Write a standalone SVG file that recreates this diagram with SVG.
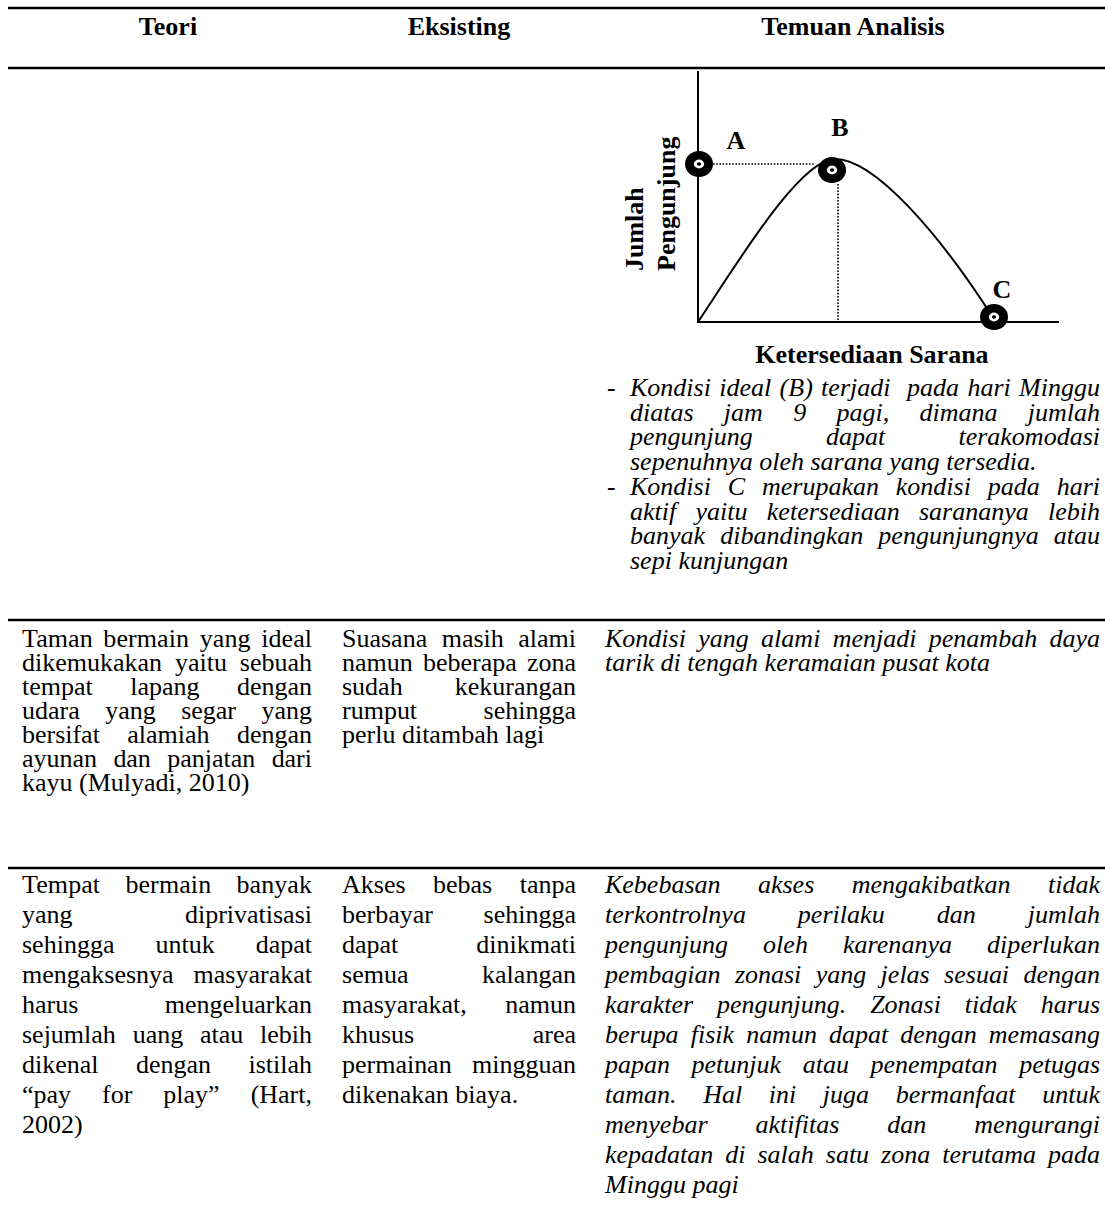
<svg xmlns="http://www.w3.org/2000/svg" width="1105" height="1205" viewBox="0 0 1105 1205">
<style>
text { font-family: "Liberation Serif", "Times New Roman", serif; font-size: 26px; fill: #000; }
.b { font-weight: bold; }
.i { font-style: italic; }
.c { text-anchor: middle; }
.rule { stroke: #000; stroke-width: 2.5; }
.ax { stroke: #000; stroke-width: 2; fill: none; }
.dot { stroke: #000; stroke-width: 1.6; stroke-dasharray: 1.6 1.6; fill: none; }
</style>
<defs>
<g id="marker-pt">
<ellipse cx="0" cy="0" rx="14" ry="13" fill="#000"/>
<ellipse cx="0" cy="0" rx="5.2" ry="4.4" fill="#fff"/>
<ellipse cx="0" cy="0" rx="2.2" ry="1.8" fill="#000"/>
</g>
</defs>
<rect width="1105" height="1205" fill="#fff"/>

<g id="rules">
<line class="rule" x1="8" y1="8" x2="1105" y2="8"/>
<line class="rule" x1="8" y1="68" x2="1105" y2="68"/>
<line class="rule" x1="8" y1="620" x2="1105" y2="620"/>
<line class="rule" x1="8" y1="868" x2="1105" y2="868"/>
</g>

<g id="header">
<text class="b c" x="168" y="35">Teori</text>
<text class="b c" x="459" y="35">Eksisting</text>
<text class="b c" x="853" y="35">Temuan Analisis</text>
</g>

<g id="chart">
<g id="connectors">
<line class="ax" x1="698" y1="71" x2="698" y2="322"/>
<line class="ax" x1="697" y1="322" x2="1059" y2="322"/>
<path class="ax" d="M698,322 C738,262 800,159 835,159 C875,159 940,235 992,316"/>
<line class="dot" x1="713" y1="164" x2="815" y2="164"/>
<line class="dot" x1="838" y1="184" x2="838" y2="322"/>
</g>
<g id="point-A"><use href="#marker-pt" x="699" y="164"/><text class="b c" x="736" y="149">A</text></g>
<g id="point-B"><use href="#marker-pt" x="832" y="170"/><text class="b c" x="840" y="136">B</text></g>
<g id="point-C"><use href="#marker-pt" x="994" y="317"/><text class="b c" x="1002" y="298">C</text></g>
<text class="b" transform="translate(643,271) rotate(-90)">Jumlah</text>
<text class="b" transform="translate(675,271) rotate(-90)">Pengunjung</text>
<text class="b c" x="872" y="363">Ketersediaan Sarana</text>
</g>

<g id="chart-notes">
<text x="607" y="396">-</text>
<text class="i" x="630" y="396" textLength="470" lengthAdjust="spacing" style="word-spacing:1.8px">Kondisi ideal (B) terjadi&#160; pada hari Minggu</text>
<text class="i" x="630" y="420.7" textLength="470" lengthAdjust="spacing" style="word-spacing:23.8px">diatas jam 9 pagi, dimana jumlah</text>
<text class="i" x="630" y="445.4" textLength="470" lengthAdjust="spacing" style="word-spacing:66.7px">pengunjung dapat terakomodasi</text>
<text class="i" x="630" y="470.1">sepenuhnya oleh sarana yang tersedia.</text>
<text x="607" y="494.8">-</text>
<text class="i" x="630" y="494.8" textLength="470" lengthAdjust="spacing" style="word-spacing:10.4px">Kondisi C merupakan kondisi pada hari</text>
<text class="i" x="630" y="519.5" textLength="470" lengthAdjust="spacing" style="word-spacing:12.8px">aktif yaitu ketersediaan sarananya lebih</text>
<text class="i" x="630" y="544.2" textLength="470" lengthAdjust="spacing" style="word-spacing:8.6px">banyak dibandingkan pengunjungnya atau</text>
<text class="i" x="630" y="568.9">sepi kunjungan</text>
</g>

<g id="row2-teori">
<text x="22" y="647" textLength="290" lengthAdjust="spacing" style="word-spacing:4px">Taman bermain yang ideal</text>
<text x="22" y="671" textLength="290" lengthAdjust="spacing" style="word-spacing:6.3px">dikemukakan yaitu sebuah</text>
<text x="22" y="695" textLength="290" lengthAdjust="spacing" style="word-spacing:31px">tempat lapang dengan</text>
<text x="22" y="719" textLength="290" lengthAdjust="spacing" style="word-spacing:19px">udara yang segar yang</text>
<text x="22" y="743" textLength="290" lengthAdjust="spacing" style="word-spacing:21px">bersifat alamiah dengan</text>
<text x="22" y="767" textLength="290" lengthAdjust="spacing" style="word-spacing:10px">ayunan dan panjatan dari</text>
<text x="22" y="791">kayu (Mulyadi, 2010)</text>
</g>

<g id="row2-eksisting">
<text x="342" y="647" textLength="234" lengthAdjust="spacing" style="word-spacing:8px">Suasana masih alami</text>
<text x="342" y="671" textLength="234" lengthAdjust="spacing" style="word-spacing:3.6px">namun beberapa zona</text>
<text x="342" y="695" textLength="234" lengthAdjust="spacing" style="word-spacing:45.6px">sudah kekurangan</text>
<text x="342" y="719" textLength="234" lengthAdjust="spacing" style="word-spacing:60px">rumput sehingga</text>
<text x="342" y="743">perlu ditambah lagi</text>
</g>

<g id="row2-temuan">
<text class="i" x="605" y="647" textLength="495" lengthAdjust="spacing" style="word-spacing:5.8px">Kondisi yang alami menjadi penambah daya</text>
<text class="i" x="605" y="671">tarik di tengah keramaian pusat kota</text>
</g>

<g id="row3-teori">
<text x="22" y="893" textLength="290" lengthAdjust="spacing" style="word-spacing:18.6px">Tempat bermain banyak</text>
<text x="22" y="923" textLength="290" lengthAdjust="spacing" style="word-spacing:106px">yang diprivatisasi</text>
<text x="22" y="953" textLength="290" lengthAdjust="spacing" style="word-spacing:34.5px">sehingga untuk dapat</text>
<text x="22" y="983" textLength="290" lengthAdjust="spacing" style="word-spacing:13.5px">mengaksesnya masyarakat</text>
<text x="22" y="1013" textLength="290" lengthAdjust="spacing" style="word-spacing:80px">harus mengeluarkan</text>
<text x="22" y="1043" textLength="290" lengthAdjust="spacing" style="word-spacing:10.3px">sejumlah uang atau lebih</text>
<text x="22" y="1073" textLength="290" lengthAdjust="spacing" style="word-spacing:31px">dikenal dengan istilah</text>
<text x="22" y="1103" textLength="290" lengthAdjust="spacing" style="word-spacing:24.5px">“pay for play” (Hart,</text>
<text x="22" y="1133">2002)</text>
</g>

<g id="row3-eksisting">
<text x="342" y="893" textLength="234" lengthAdjust="spacing" style="word-spacing:21px">Akses bebas tanpa</text>
<text x="342" y="923" textLength="234" lengthAdjust="spacing" style="word-spacing:44px">berbayar sehingga</text>
<text x="342" y="953" textLength="234" lengthAdjust="spacing" style="word-spacing:71.5px">dapat dinikmati</text>
<text x="342" y="983" textLength="234" lengthAdjust="spacing" style="word-spacing:67px">semua kalangan</text>
<text x="342" y="1013" textLength="234" lengthAdjust="spacing" style="word-spacing:32px">masyarakat, namun</text>
<text x="342" y="1043" textLength="234" lengthAdjust="spacing" style="word-spacing:112px">khusus area</text>
<text x="342" y="1073" textLength="234" lengthAdjust="spacing" style="word-spacing:14px">permainan mingguan</text>
<text x="342" y="1103">dikenakan biaya.</text>
</g>

<g id="row3-temuan">
<text class="i" x="605" y="893" textLength="495" lengthAdjust="spacing" style="word-spacing:31px">Kebebasan akses mengakibatkan tidak</text>
<text class="i" x="605" y="923" textLength="495" lengthAdjust="spacing" style="word-spacing:45.4px">terkontrolnya perilaku dan jumlah</text>
<text class="i" x="605" y="953" textLength="495" lengthAdjust="spacing" style="word-spacing:28.5px">pengunjung oleh karenanya diperlukan</text>
<text class="i" x="605" y="983" textLength="495" lengthAdjust="spacing" style="word-spacing:7.9px">pembagian zonasi yang jelas sesuai dengan</text>
<text class="i" x="605" y="1013" textLength="495" lengthAdjust="spacing" style="word-spacing:17.4px">karakter pengunjung. Zonasi tidak harus</text>
<text class="i" x="605" y="1043" textLength="495" lengthAdjust="spacing" style="word-spacing:5.6px">berupa fisik namun dapat dengan memasang</text>
<text class="i" x="605" y="1073" textLength="495" lengthAdjust="spacing" style="word-spacing:15.1px">papan petunjuk atau penempatan petugas</text>
<text class="i" x="605" y="1103" textLength="495" lengthAdjust="spacing" style="word-spacing:20.1px">taman. Hal ini juga bermanfaat untuk</text>
<text class="i" x="605" y="1133" textLength="495" lengthAdjust="spacing" style="word-spacing:41.5px">menyebar aktifitas dan mengurangi</text>
<text class="i" x="605" y="1163" textLength="495" lengthAdjust="spacing" style="word-spacing:5.5px">kepadatan di salah satu zona terutama pada</text>
<text class="i" x="605" y="1193">Minggu pagi</text>
</g>
</svg>
